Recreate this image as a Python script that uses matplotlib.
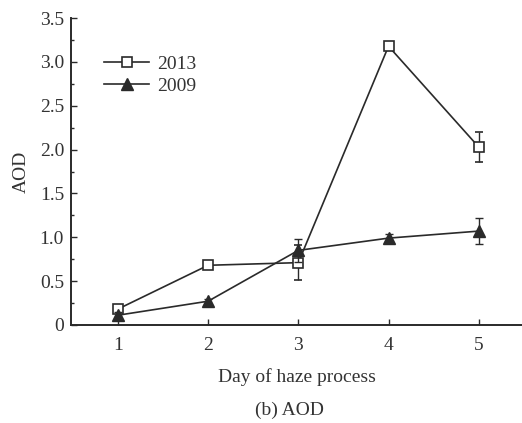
import numpy as np
import matplotlib.pyplot as plt
from matplotlib.lines import Line2D
from matplotlib.ticker import FuncFormatter, MultipleLocator

plt.rcParams['font.family'] = ['Liberation Serif', 'DejaVu Serif']

days = [1, 2, 3, 4, 5]
aod_2013 = [0.18, 0.68, 0.71, 3.18, 2.03]
err_2013 = [0.05, 0.03, 0.20, 0.03, 0.17]
aod_2009 = [0.11, 0.27, 0.85, 0.99, 1.07]
err_2009 = [0.04, 0.03, 0.13, 0.05, 0.15]

ink = '#2a2a2a'
txt = '#333333'

fig = plt.figure(figsize=(5.22, 4.23), dpi=100)
ax = fig.add_axes([0.136, 0.232, 0.864, 0.725])

ax.errorbar(days, aod_2013, yerr=err_2013, color=ink, lw=1.2, marker='s', ms=7,
            mfc='white', mec=ink, mew=1.2, capsize=3, elinewidth=1.0, zorder=3)
ax.errorbar(days, aod_2009, yerr=err_2009, color=ink, lw=1.2, marker='^', ms=9,
            mfc=ink, mec=ink, capsize=3, elinewidth=1.0, zorder=4)

ax.set_xlim(0.48, 5.48)
ax.set_ylim(0, 3.5)
ax.set_xticks(days)
ax.yaxis.set_major_locator(MultipleLocator(0.5))
ax.yaxis.set_minor_locator(MultipleLocator(0.25))
ax.yaxis.set_major_formatter(FuncFormatter(lambda v, p: '0' if v == 0 else f'{v:.1f}'))

for s in ['top', 'right']:
    ax.spines[s].set_visible(False)
for s in ['left', 'bottom']:
    ax.spines[s].set_color(ink)
    ax.spines[s].set_linewidth(1.4)

ax.tick_params(direction='in', length=4, width=1, colors=ink, labelsize=14, labelcolor=txt)
ax.tick_params(axis='y', which='minor', direction='in', length=2, width=1, colors=ink)
ax.tick_params(axis='x', pad=9)
ax.tick_params(axis='y', pad=5)

ax.set_ylabel('AOD', fontsize=14, color=txt, labelpad=7)
ax.set_xlabel('Day of haze process', fontsize=14, color=txt, labelpad=10)

handles = [
    Line2D([], [], color=ink, lw=1.2, marker='s', ms=7, mfc='white', mec=ink, mew=1.2),
    Line2D([], [], color=ink, lw=1.2, marker='^', ms=9, mfc=ink, mec=ink),
]
leg = ax.legend(handles, ['2013', '2009'], loc='upper left', bbox_to_anchor=(0.035, 0.935),
                frameon=False, fontsize=14, handlelength=2.3, handletextpad=0.4,
                labelspacing=0.2, numpoints=1)
for t in leg.get_texts():
    t.set_color(txt)

fig.text(0.555, 0.018, '(b) AOD', ha='center', fontsize=14, color=txt)

fig.savefig('out.png', dpi=100, facecolor='white')
